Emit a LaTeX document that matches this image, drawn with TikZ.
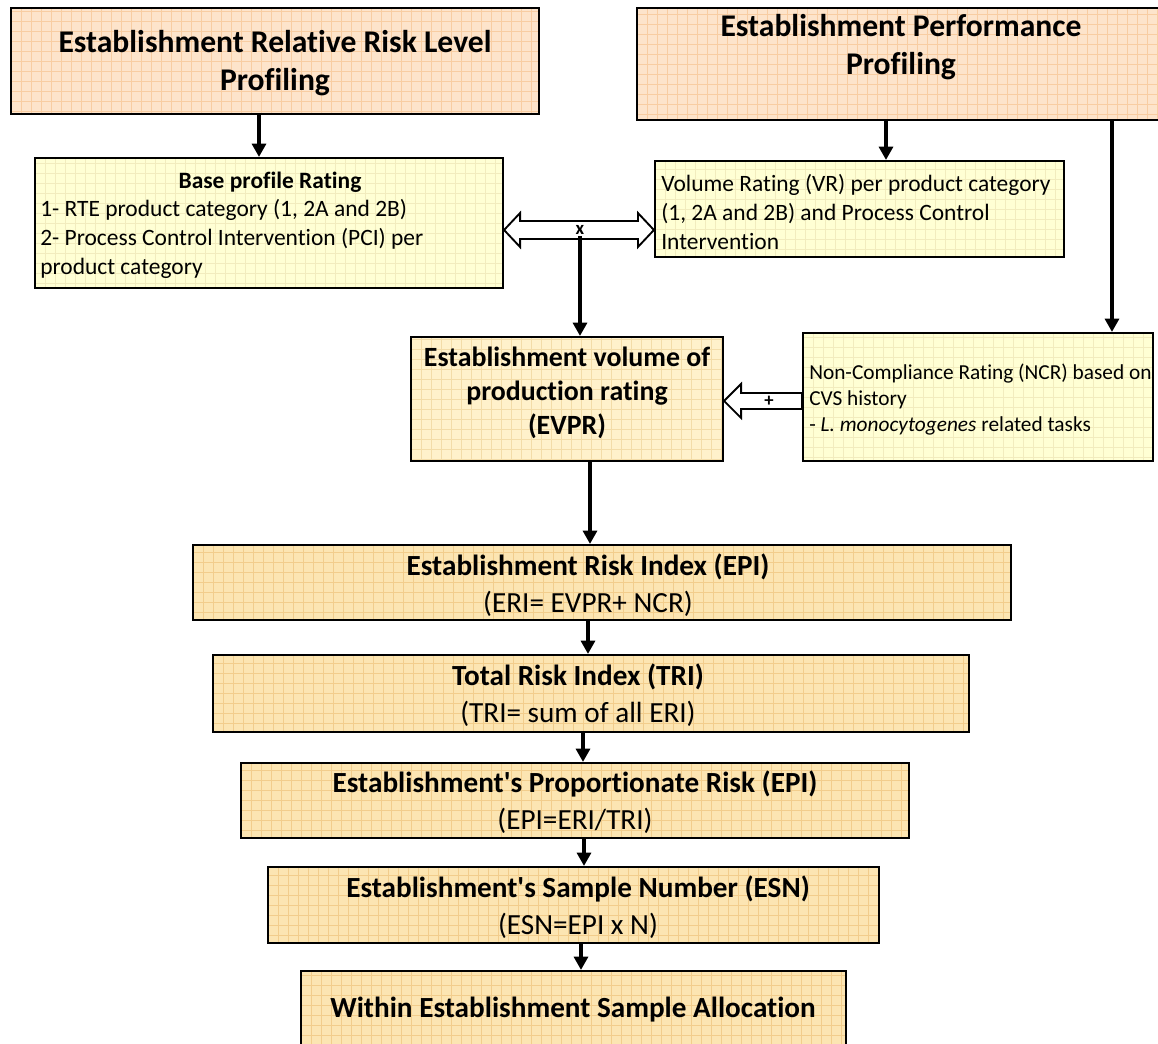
\documentclass[tikz,border=0pt]{standalone}
\usepackage{fontspec}
\setmainfont{Carlito}[Ligatures=NoCommon]
\usetikzlibrary{arrows.meta,fit,calc}
\definecolor{peach}{HTML}{FDE4CB}
\definecolor{peachgrid}{HTML}{F8CDA2}
\definecolor{pale}{HTML}{FFFFD4}
\definecolor{palegrid}{HTML}{F2ECBE}
\definecolor{cream}{HTML}{FFF1CB}
\definecolor{creamgrid}{HTML}{F3DCA8}
\definecolor{gold}{HTML}{FCE5B2}
\definecolor{goldgrid}{HTML}{F2CD8C}
\tikzset{
  box/.style={draw=black, line width=1.6pt, inner sep=0pt},
  gridfill/.style 2 args={fill=#1, path picture={\draw[#2, line width=0.5pt, step=7.5pt]
      (path picture bounding box.south west) grid (path picture bounding box.north east);}},
  peachbox/.style={box, gridfill={peach}{peachgrid}},
  palebox/.style={box, gridfill={pale}{palegrid}},
  creambox/.style={box, gridfill={cream}{creamgrid}},
  goldbox/.style={box, gridfill={gold}{goldgrid}},
  bigtitle/.style={font=\fontsize{23.7}{28.5}\selectfont\bfseries, align=center, inner sep=0pt},
  midtitle/.style={font=\fontsize{20.9}{25.5}\selectfont\bfseries, align=center, inner sep=0pt},
  lowtitle/.style={font=\fontsize{21.9}{27.5}\selectfont, align=center, inner sep=0pt},
  bodytext/.style={font=\fontsize{17.6}{21.8}\selectfont, align=left, inner sep=0pt},
  smalltext/.style={font=\fontsize{16}{19.5}\selectfont, align=left, inner sep=0pt},
  marklabel/.style={font=\fontsize{14}{14}\selectfont\bfseries, inner sep=0pt},
  flow/.style={line width=2.4pt, -{Triangle[length=10pt,width=10.5pt]}},
  hollow/.style={draw=black, fill=white, line width=1.4pt, line join=miter},
}
\begin{document}
\begin{tikzpicture}[x=0.75pt, y=-0.75pt]
\useasboundingbox (0,0) rectangle (1158,1044);
% boxes
\node[peachbox, fit={(11,8) (539,114)}] (A) {};
\node[peachbox, fit={(637,8) (1164,120)}] (B) {};
\node[palebox, fit={(35,158) (503,288)}] (C) {};
\node[palebox, fit={(655,161) (1064,257)}] (D) {};
\node[creambox, fit={(411,337) (723,461)}] (E) {};
\node[palebox, fit={(803,333) (1153,461)}] (F) {};
\node[goldbox, fit={(193,545) (1011,620)}] (G) {};
\node[goldbox, fit={(213,655) (969,732)}] (H) {};
\node[goldbox, fit={(241,763) (909,838)}] (I) {};
\node[goldbox, fit={(268,867) (879,943)}] (J) {};
\node[goldbox, fit={(301,971) (846,1060)}] (K) {};
% texts
\node[bigtitle] (At) at (275,63) {Establishment Relative Risk Level\\Profiling};
\node[bigtitle] (Bt) at (901,47) {Establishment Performance\\Profiling};
\node[bodytext, font=\fontsize{17.6}{21.8}\selectfont\bfseries] (Ct) at (270,182) {Base profile Rating};
\node[bodytext, anchor=west] (Cb) at (40,239) {1- RTE product category (1, 2A and 2B)\\2- Process Control Intervention (PCI) per\\product category};
\node[bodytext, anchor=west] (Dt) at (661,212) {Volume Rating (VR) per product category\\(1, 2A and 2B) and Process Control\\Intervention};
\node[midtitle] (Et) at (567,393) {Establishment volume of\\production rating\\(EVPR)};
\node[smalltext, anchor=west] (Ft) at (809,400) {Non-Compliance Rating (NCR) based on\\CVS history\\- \textit{L. monocytogenes} related tasks};
\node[lowtitle] (Gt) at (588,585) {\textbf{Establishment Risk Index (EPI)}\\(ERI= EVPR+ NCR)};
\node[lowtitle] (Ht) at (578,695) {\textbf{Total Risk Index (TRI)}\\(TRI= sum of all ERI)};
\node[lowtitle] (It) at (575,802) {\textbf{Establishment\textquotesingle s Proportionate Risk (EPI)}\\(EPI=ERI/TRI)};
\node[lowtitle] (Jt) at (578,907) {\textbf{Establishment\textquotesingle s Sample Number (ESN)}\\(ESN=EPI x N)};
\node[lowtitle] (Kt) at (573,1010) {\textbf{Within Establishment Sample Allocation}};
% plain arrows
\draw[flow] (A.south -| 259,0) -- (C.north -| 259,0);
\draw[flow] (B.south -| 886,0) -- (D.north -| 886,0);
\draw[flow] (B.south -| 1112,0) -- (F.north -| 1112,0);
\draw[flow] (E.south -| 590,0) -- (G.north -| 590,0);
\draw[flow] (G.south -| 588,0) -- (H.north -| 588,0);
\draw[flow] (H.south -| 583,0) -- (I.north -| 583,0);
\draw[flow] (I.south -| 584,0) -- (J.north -| 584,0);
\draw[flow] (J.south -| 581,0) -- (K.north -| 581,0);
% double hollow arrow between C and D
\coordinate (dl) at (C.east |- 0,230);
\coordinate (dr) at (D.west |- 0,230);
\draw[hollow] (dl) -- ($(dl)+(16,-17)$) -- ($(dl)+(16,-9)$) -- ($(dr)+(-16,-9)$) -- ($(dr)+(-16,-17)$)
  -- (dr) -- ($(dr)+(-16,17)$) -- ($(dr)+(-16,9)$) -- ($(dl)+(16,9)$) -- ($(dl)+(16,17)$) -- cycle;
\coordinate (xs) at (580,236);
\draw[flow] (xs) -- (E.north -| xs);
\node[marklabel] (xl) at (580,230) {x};
% hollow arrow from F to E
\coordinate (pl) at (E.east |- 0,401);
\coordinate (pr) at (F.west |- 0,401);
\draw[hollow] (pl) -- ($(pl)+(17,-17)$) -- ($(pl)+(17,-8)$) -- ($(pr)+(0,-8)$) -- ($(pr)+(0,8)$)
  -- ($(pl)+(17,8)$) -- ($(pl)+(17,17)$) -- cycle;
\node[marklabel] (pls) at (769,401) {+};
\end{tikzpicture}
\end{document}
